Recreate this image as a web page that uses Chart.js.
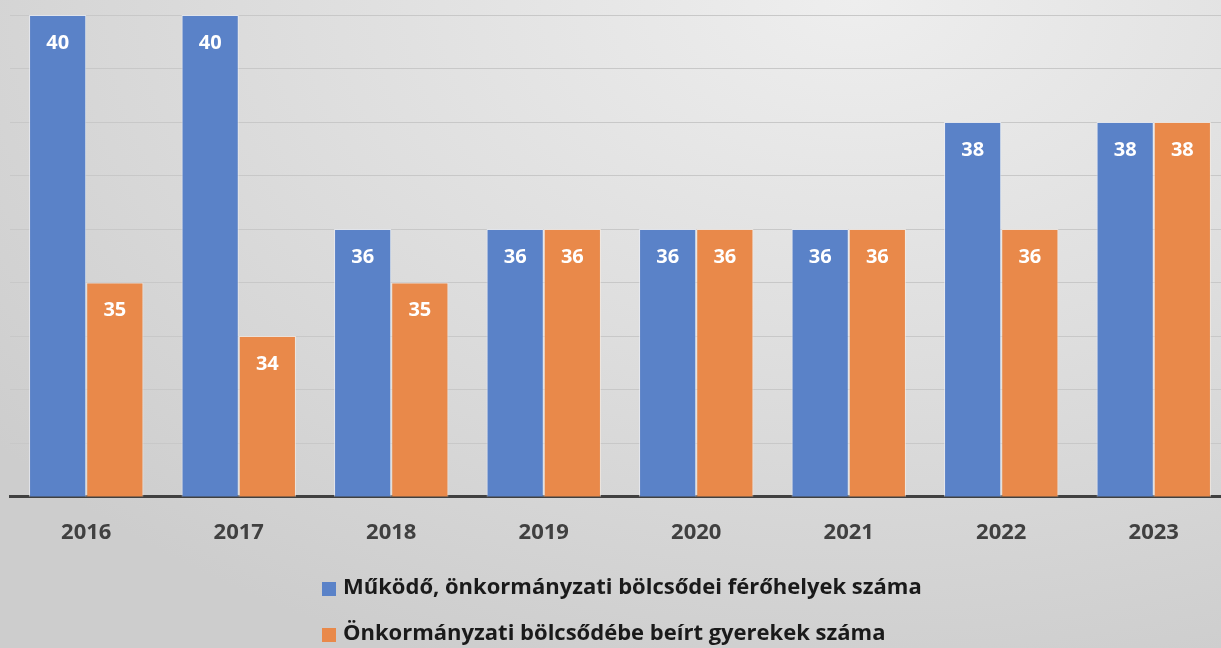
<!DOCTYPE html>
<html>
<head>
<meta charset="utf-8">
<script src="https://cdn.jsdelivr.net/npm/chart.js@4/dist/chart.umd.min.js"></script>
<style>
  html, body { margin: 0; padding: 0; overflow: hidden; }
  body {
    width: 1221px; height: 648px;
    background: radial-gradient(ellipse 90% 110% at 70% 0%, #eeeeee 0%, #dedede 50%, #cdcdcd 100%);
  }
  #wrap { position: relative; width: 1232px; height: 648px; }
</style>
</head>
<body>
<div id="wrap"><canvas id="chart"></canvas></div>
<script>
const years = ['2016', '2017', '2018', '2019', '2020', '2021', '2022', '2023'];
const ferohelyek = [40, 40, 36, 36, 36, 36, 38, 38];
const beirtGyerekek = [35, 34, 35, 36, 36, 36, 36, 38];
const seriesNames = [
  'Működő, önkormányzati bölcsődei férőhelyek száma',
  'Önkormányzati bölcsődébe beírt gyerekek száma'
];
const FONT = '"Open Sans", sans-serif';

const barLabels = {
  id: 'barLabels',
  afterDatasetsDraw(chart) {
    const ctx = chart.ctx;
    ctx.save();
    ctx.fillStyle = '#ffffff';
    ctx.font = 'bold 20px ' + FONT;
    ctx.textAlign = 'center';
    ctx.textBaseline = 'middle';
    chart.data.datasets.forEach((ds, i) => {
      chart.getDatasetMeta(i).data.forEach((bar, j) => {
        ctx.fillText(ds.data[j], bar.x, bar.y + 28);
      });
    });
    ctx.restore();
  }
};

const bottomLegend = {
  id: 'bottomLegend',
  afterDraw(chart) {
    const ctx = chart.ctx;
    ctx.save();
    ctx.font = 'bold 22px ' + FONT;
    ctx.textBaseline = 'middle';
    chart.data.datasets.forEach((ds, i) => {
      const y = 589 + i * 46;
      ctx.fillStyle = ds.backgroundColor;
      ctx.fillRect(322, y - 7, 14, 14);
      ctx.fillStyle = '#1a1a1a';
      ctx.fillText(ds.label, 343, y - 1);
    });
    ctx.restore();
  }
};

new Chart(document.getElementById('chart'), {
  type: 'bar',
  data: {
    labels: years,
    datasets: [
      {
        label: seriesNames[0],
        data: ferohelyek,
        backgroundColor: '#5a82c8',
        borderColor: 'rgba(235,240,250,0.7)',
        borderWidth: 1,
        categoryPercentage: 0.75,
        barPercentage: 1.0
      },
      {
        label: seriesNames[1],
        data: beirtGyerekek,
        backgroundColor: '#e9894a',
        borderColor: 'rgba(250,235,225,0.7)',
        borderWidth: 1,
        categoryPercentage: 0.75,
        barPercentage: 1.0
      }
    ]
  },
  options: {
    responsive: true,
    maintainAspectRatio: false,
    animation: false,
    layout: { padding: { left: 10, top: 15, right: 2, bottom: 79 } },
    plugins: {
      legend: { display: false },
      tooltip: { enabled: false }
    },
    scales: {
      x: {
        grid: { display: false, drawTicks: false },
        border: { display: true, color: '#404040', width: 3 },
        ticks: {
          color: '#404040',
          font: { family: FONT, size: 22, weight: 'bold' },
          padding: 23
        }
      },
      y: {
        min: 31,
        max: 40,
        ticks: { display: false, stepSize: 1 },
        grid: { color: '#c8c8c8', lineWidth: 1, drawTicks: false },
        border: { display: false }
      }
    }
  },
  plugins: [barLabels, bottomLegend]
});
</script>
</body>
</html>
